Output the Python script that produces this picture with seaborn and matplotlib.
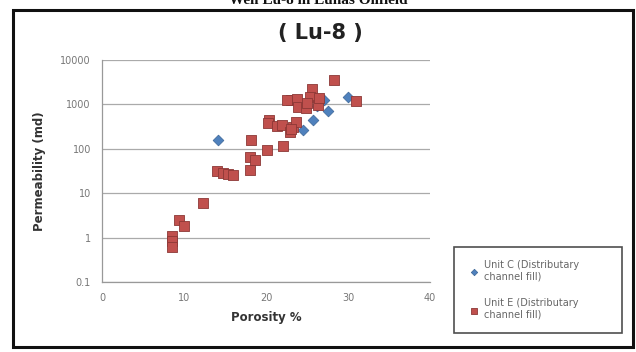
import matplotlib
matplotlib.use("Agg")
import matplotlib.pyplot as plt
import seaborn as sns
import pandas as pd
from matplotlib.patches import Rectangle

# Data
unit_c_porosity = [14.1, 30.0, 27.6, 25.7, 24.5, 27.1, 26.2]
unit_c_perm = [158, 1480, 720, 445, 265, 1260, 900]

unit_e_porosity = [28.3, 31.0, 25.6, 25.4, 23.1, 22.6, 23.8, 23.9, 24.9, 26.3, 26.5, 25.0,
                   20.4, 20.3, 21.3, 22.0, 23.3, 22.9, 23.7, 23.0, 22.1, 20.1, 18.2, 18.0,
                   18.7, 18.1, 14.0, 14.8, 15.4, 16.0, 12.3, 9.4, 10.0, 8.5, 8.5, 8.5]
unit_e_perm = [3600, 1200, 2250, 1480, 1250, 1250, 1300, 890, 820, 960, 1380, 1100,
               440, 380, 330, 340, 310, 240, 400, 280, 115, 93, 158, 66,
               57, 34, 31.6, 28, 27, 25.7, 6.0, 2.5, 1.8, 1.1, 0.85, 0.62]

x_ticks = [0, 10, 20, 30, 40]
y_ticks = [0.1, 1, 10, 100, 1000, 10000]
y_tick_labels = ["0.1", "1", "10", "100", "1000", "10000"]

label_c = "Unit C (Distributary\nchannel fill)"
label_e = "Unit E (Distributary\nchannel fill)"

df_c = pd.DataFrame({"Porosity": unit_c_porosity, "Permeability": unit_c_perm})
df_e = pd.DataFrame({"Porosity": unit_e_porosity, "Permeability": unit_e_perm})

sns.set_theme(style="white")
plt.rcParams["font.family"] = ["DejaVu Sans"]

fig = plt.figure(figsize=(6.36, 3.52), dpi=100)
ax = fig.add_axes([0.1604, 0.199, 0.676 - 0.1604, 0.8295 - 0.199])

# outer chart frame
fig.patches.append(Rectangle((13 / 636, 1 - 347 / 352), (633 - 13) / 636, (347 - 10) / 352,
                             transform=fig.transFigure, fill=False, edgecolor="#111111",
                             linewidth=2.2, zorder=0))

sns.scatterplot(data=df_c, x="Porosity", y="Permeability", ax=ax, marker="D", s=30,
                color="#4F81BD", edgecolor="#3A6496", linewidth=0.5, label=label_c, zorder=3)
sns.scatterplot(data=df_e, x="Porosity", y="Permeability", ax=ax, marker="s", s=55,
                color="#C0504D", edgecolor="#8C3836", linewidth=0.6, label=label_e, zorder=4)

ax.set_yscale("log")
ax.set_xlim(0, 40)
ax.set_ylim(0.1, 10000)
ax.set_xticks(x_ticks)
ax.set_yticks(y_ticks)
ax.set_yticklabels(y_tick_labels)
ax.minorticks_off()
ax.yaxis.grid(True, color="#AAAAAA", linewidth=0.9)
ax.set_axisbelow(True)
for side in ["top", "right"]:
    ax.spines[side].set_visible(False)
for side in ["left", "bottom"]:
    ax.spines[side].set_color("#999999")
    ax.spines[side].set_linewidth(0.9)
ax.tick_params(axis="both", direction="out", length=4, width=0.8, color="#999999",
               labelsize=7, labelcolor="#777777", pad=4)

ax.set_xlabel("Porosity %", fontsize=8.5, fontweight="bold", color="#333333", labelpad=6)
ax.set_ylabel("Permeability (md)", fontsize=8.5, fontweight="bold", color="#333333", labelpad=10)

fig.text(0.503, 1 - 33 / 352, "( Lu-8 )", ha="center", va="center", fontsize=15,
         fontweight="bold", color="#222222")
fig.text(0.5, 1.0, "Well Lu-8 in Lunas Oilfield", ha="center", va="center", fontsize=11,
         fontweight="bold", color="#111111", family=["Liberation Serif", "DejaVu Serif"])

leg = ax.legend(loc="center", bbox_to_anchor=(449 / 636, 1 - 337 / 352, 178 / 636, 94 / 352),
                bbox_transform=fig.transFigure, mode="expand", frameon=True, fontsize=7,
                labelcolor="#666666", markerscale=0.6, handletextpad=0.2,
                borderpad=1.3, labelspacing=1.7, handlelength=1.6, fancybox=False)
leg.get_frame().set_edgecolor("#222222")
leg.get_frame().set_linewidth(1.2)

fig.savefig("out.png", dpi=100)
